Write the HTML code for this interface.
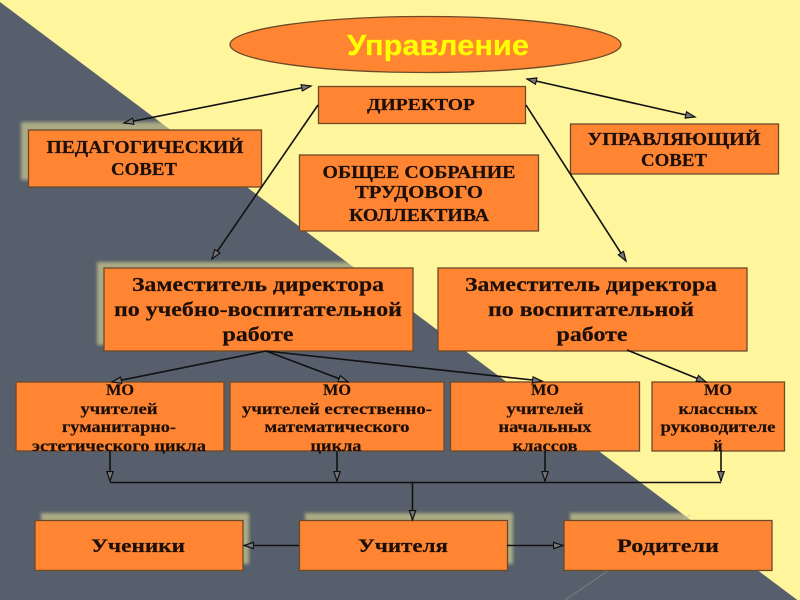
<!DOCTYPE html>
<html><head><meta charset="utf-8"><style>html,body{margin:0;padding:0;background:#fff59d}svg{display:block;filter:blur(.35px)}
text{font-family:"Liberation Serif","Noto Serif CJK SC",serif;font-weight:bold;fill:#1c0f08;text-anchor:middle;stroke:#1c0f08;stroke-width:.2}
.b{fill:#ff8533;stroke:#6b4a2a;stroke-width:1.3}
.l{stroke:#111;stroke-width:1.6;fill:none}
.s{fill:#fff59d;opacity:.5;filter:url(#bl)}
</style></head><body>
<svg width="800" height="600" viewBox="0 0 800 600" xmlns="http://www.w3.org/2000/svg">
<defs>
<filter id="bl" x="-10%" y="-10%" width="120%" height="120%"><feGaussianBlur stdDeviation="1.5"/></filter>
<marker id="a" markerWidth="12" markerHeight="10" refX="10" refY="4" orient="auto-start-reverse" markerUnits="userSpaceOnUse"><path d="M0.5 0.8L10 4L0.5 7.2Z" fill="#777" stroke="#111" stroke-width="1.2"/></marker>
</defs>
<rect width="800" height="600" fill="#fff59d"/>
<polygon points="0,2 800,602 800,600 0,600" fill="#565f6b"/>
<line x1="565" y1="600" x2="690" y2="515" stroke="#8a8f8a" stroke-width="1" opacity=".7"/>
<rect class="s" x="21" y="122" width="234" height="58"/>
<rect class="s" x="97" y="262" width="309" height="83"/>
<rect class="s" x="41" y="513" width="208" height="51"/>
<rect class="s" x="305" y="513" width="208" height="51"/>
<rect class="s" x="570" y="513" width="208" height="20"/>
<ellipse class="b" cx="425.5" cy="44.5" rx="195.5" ry="28"/>
<text x="438" y="55" style="font-family:'Liberation Sans',sans-serif;font-size:29px;fill:#ffff00;stroke:#ffff00" textLength="182" lengthAdjust="spacingAndGlyphs">Управление</text>
<rect class="b" x="318.5" y="86.5" width="207" height="37"/>
<text x="421" y="110" font-size="17" textLength="108" lengthAdjust="spacingAndGlyphs">ДИРЕКТОР</text>
<rect class="b" x="28.5" y="130" width="233" height="57"/>
<text x="145" y="153" font-size="17.5" textLength="197" lengthAdjust="spacingAndGlyphs">ПЕДАГОГИЧЕСКИЙ</text>
<text x="144" y="175" font-size="17.5" textLength="66" lengthAdjust="spacingAndGlyphs">СОВЕТ</text>
<rect class="b" x="570.5" y="124" width="208" height="50"/>
<text x="674" y="145" font-size="17.5" textLength="173" lengthAdjust="spacingAndGlyphs">УПРАВЛЯЮЩИЙ</text>
<text x="674" y="166" font-size="17.5" textLength="66" lengthAdjust="spacingAndGlyphs">СОВЕТ</text>
<rect class="b" x="299.5" y="155" width="239" height="76"/>
<text x="419" y="178" font-size="17.500" textLength="193" lengthAdjust="spacingAndGlyphs">ОБЩЕЕ СОБРАНИЕ</text>
<text x="419" y="198" font-size="17.500" textLength="128" lengthAdjust="spacingAndGlyphs">ТРУДОВОГО</text>
<text x="419" y="221" font-size="17.500" textLength="140" lengthAdjust="spacingAndGlyphs">КОЛЛЕКТИВА</text>
<rect class="b" x="104" y="268" width="309" height="83"/>
<text x="258" y="291" font-size="19.500" textLength="252" lengthAdjust="spacingAndGlyphs">Заместитель директора</text>
<text x="258" y="316" font-size="19.500" textLength="288" lengthAdjust="spacingAndGlyphs">по учебно-воспитательной</text>
<text x="258" y="341" font-size="19.500" textLength="71" lengthAdjust="spacingAndGlyphs">работе</text>
<rect class="b" x="438" y="268" width="309" height="83"/>
<text x="591" y="291" font-size="19.500" textLength="252" lengthAdjust="spacingAndGlyphs">Заместитель директора</text>
<text x="591" y="316" font-size="19.500" textLength="206" lengthAdjust="spacingAndGlyphs">по воспитательной</text>
<text x="592" y="341" font-size="19.500" textLength="71" lengthAdjust="spacingAndGlyphs">работе</text>
<rect class="b" x="16" y="382" width="208" height="69"/>
<text x="120" y="395" font-size="16" textLength="28" lengthAdjust="spacingAndGlyphs">МО</text>
<text x="119" y="414" font-size="16" textLength="77" lengthAdjust="spacingAndGlyphs">учителей</text>
<text x="119" y="432" font-size="16" textLength="114" lengthAdjust="spacingAndGlyphs">гуманитарно-</text>
<text x="119" y="451" font-size="16" textLength="174" lengthAdjust="spacingAndGlyphs">эстетического цикла</text>
<rect class="b" x="230" y="382" width="214" height="69"/>
<text x="337" y="395" font-size="16" textLength="28" lengthAdjust="spacingAndGlyphs">МО</text>
<text x="337" y="414" font-size="16" textLength="190" lengthAdjust="spacingAndGlyphs">учителей естественно-</text>
<text x="337" y="432" font-size="16" textLength="145" lengthAdjust="spacingAndGlyphs">математического</text>
<text x="336" y="451" font-size="16" textLength="51" lengthAdjust="spacingAndGlyphs">цикла</text>
<rect class="b" x="450.5" y="382" width="189" height="69"/>
<text x="545" y="395" font-size="16" textLength="28" lengthAdjust="spacingAndGlyphs">МО</text>
<text x="545" y="414" font-size="16" textLength="77" lengthAdjust="spacingAndGlyphs">учителей</text>
<text x="545" y="432" font-size="16" textLength="93" lengthAdjust="spacingAndGlyphs">начальных</text>
<text x="545" y="451" font-size="16" textLength="65" lengthAdjust="spacingAndGlyphs">классов</text>
<rect class="b" x="652" y="382" width="132.500" height="69"/>
<text x="718" y="395" font-size="16" textLength="28" lengthAdjust="spacingAndGlyphs">МО</text>
<text x="718" y="414" font-size="16" textLength="79" lengthAdjust="spacingAndGlyphs">классных</text>
<text x="718" y="432" font-size="16" textLength="115" lengthAdjust="spacingAndGlyphs">руководителе</text>
<text x="718" y="451" font-size="16">й</text>
<rect class="b" x="35" y="520.500" width="208" height="50"/>
<text x="138" y="552" font-size="19" textLength="94" lengthAdjust="spacingAndGlyphs">Ученики</text>
<rect class="b" x="299.500" y="520.500" width="208" height="50"/>
<text x="403" y="552" font-size="19" textLength="90" lengthAdjust="spacingAndGlyphs">Учителя</text>
<rect class="b" x="564" y="520.500" width="208" height="50"/>
<text x="668" y="552" font-size="19" textLength="102" lengthAdjust="spacingAndGlyphs">Родители</text>
<g class="l">
<line x1="124" y1="123" x2="311" y2="86" marker-start="url(#a)" marker-end="url(#a)"/>
<line x1="527" y1="79" x2="695" y2="117" marker-start="url(#a)" marker-end="url(#a)"/>
<line x1="318" y1="105" x2="212" y2="259" marker-end="url(#a)"/>
<line x1="526" y1="105" x2="626" y2="261" marker-end="url(#a)"/>
<line x1="266" y1="351" x2="112" y2="382" marker-end="url(#a)"/>
<line x1="266" y1="351" x2="348" y2="382" marker-end="url(#a)"/>
<line x1="266" y1="351" x2="542" y2="381" marker-end="url(#a)"/>
<line x1="627" y1="350" x2="706" y2="382" marker-end="url(#a)"/>
<line x1="110" y1="451" x2="110" y2="481" marker-end="url(#a)"/>
<line x1="337" y1="451" x2="337" y2="481" marker-end="url(#a)"/>
<line x1="545" y1="451" x2="545" y2="481" marker-end="url(#a)"/>
<line x1="721" y1="451" x2="721" y2="481" marker-end="url(#a)"/>
<line x1="110" y1="482.500" x2="721" y2="482.500"/>
<line x1="412.500" y1="482" x2="412.500" y2="520" marker-end="url(#a)"/>
<line x1="299" y1="545.500" x2="244" y2="545.500" marker-end="url(#a)"/>
<line x1="507" y1="545.500" x2="563" y2="545.500" marker-end="url(#a)"/>
</g>
</svg>
</body></html>
